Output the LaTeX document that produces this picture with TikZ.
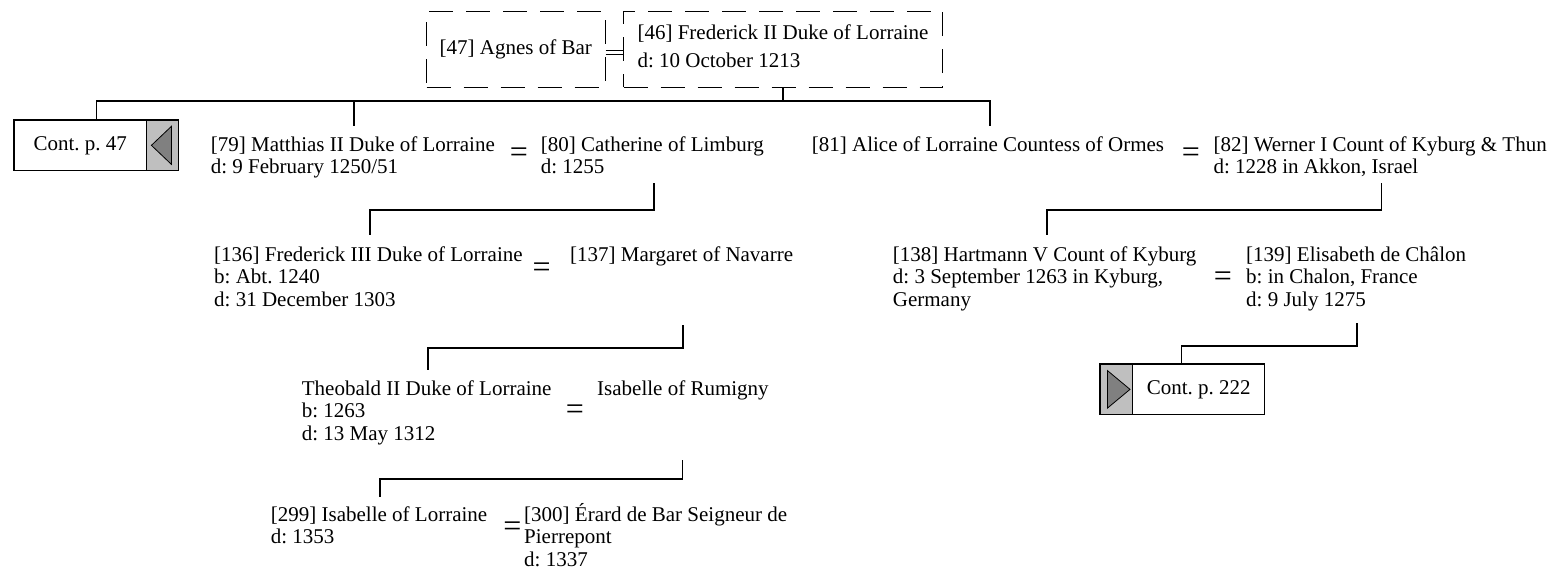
\documentclass[tikz,border=0pt]{standalone}
\usepackage{fontspec}
\setmainfont{Liberation Serif}
\frenchspacing
\begin{document}
\begin{tikzpicture}[x=1pt,y=-1pt,
  every node/.style={font=\fontsize{21}{22.8}\selectfont\frenchspacing},
  person/.style={anchor=base west, inner sep=0pt},
  eqsign/.style={inner sep=0pt, font=\fontsize{32}{32}\selectfont},
  link/.style={line width=1.4pt},
  dbox/.style={draw, dash pattern=on 24pt off 13pt, line width=1pt, minimum height=76pt, inner sep=0pt},
  contbox/.style={draw, line width=1.4pt, fill=white, minimum height=50.7pt, inner sep=0pt},
  contgray/.style={draw, line width=1.4pt, fill=black!25, minimum height=50.7pt, inner sep=0pt},
  arrowtri/.style={draw, line width=0.8pt, fill=black!50},
]
\useasboundingbox (0,0) rectangle (1560,581);

% top couple
\node[dbox, minimum width=178.6pt, anchor=north west] (n47) at (426,10.7) {[47] Agnes of Bar};
\node[dbox, minimum width=319pt, anchor=north west] (n46) at (623,10.7) {\begin{tabular}{@{}l@{}}[46] Frederick II Duke of Lorraine\\[5pt] d: 10 October 1213\end{tabular}};
\draw[line width=1pt] ([yshift=-1.25pt]n47.east) -- ([yshift=-1.25pt]n46.west);
\draw[line width=1pt] ([yshift=-5pt]n47.east) -- ([yshift=-5pt]n46.west);

% continuation boxes
\node[contbox, minimum width=132.4pt, anchor=north west] (c47) at (13.3,119.3) {Cont. p. 47};
\node[contgray, minimum width=32.3pt, anchor=north west] (g47) at (145.7,119.3) {};
\draw[arrowtri] ([shift={(-11.15,0)}]g47.center) -- ([shift={(8.85,-19)}]g47.center) -- ([shift={(8.85,19)}]g47.center) -- cycle;

\node[contgray, minimum width=32.7pt, anchor=north west] (g222) at (1099.3,363.3) {};
\node[contbox, minimum width=132pt, anchor=north west] (c222) at (1132,363.3) {Cont. p. 222};
\draw[arrowtri] ([shift={(13.65,0)}]g222.center) -- ([shift={(-8.95,-18.8)}]g222.center) -- ([shift={(-8.95,18.8)}]g222.center) -- cycle;

% generation 1
\node[person] (p79) at (210.7,151) {\begin{tabular}[t]{@{}l@{}}[79] Matthias II Duke of Lorraine\\ d: 9 February 1250/51\end{tabular}};
\node[eqsign] (e1) at (519,155) {=};
\node[person] (p80) at (540.7,151) {\begin{tabular}[t]{@{}l@{}}[80] Catherine of Limburg\\ d: 1255\end{tabular}};
\node[person] (p81) at (811.7,151) {[81] Alice of Lorraine Countess of Ormes};
\node[eqsign] (e2) at (1191,155) {=};
\node[person] (p82) at (1213.3,151) {\begin{tabular}[t]{@{}l@{}}[82] Werner I Count of Kyburg \& Thun\\ d: 1228 in Akkon, Israel\end{tabular}};

% generation 2
\node[person] (p136) at (214,261) {\begin{tabular}[t]{@{}l@{}}[136] Frederick III Duke of Lorraine\\ b: Abt. 1240\\ d: 31 December 1303\end{tabular}};
\node[eqsign] (e3) at (541.7,270) {=};
\node[person] (p137) at (570,261) {[137] Margaret of Navarre};
\node[person] (p138) at (892.7,261) {\begin{tabular}[t]{@{}l@{}}[138] Hartmann V Count of Kyburg\\ d: 3 September 1263 in Kyburg,\\ Germany\end{tabular}};
\node[eqsign] (e4) at (1223,279) {=};
\node[person] (p139) at (1246,261) {\begin{tabular}[t]{@{}l@{}}[139] Elisabeth de Châlon\\ b: in Chalon, France\\ d: 9 July 1275\end{tabular}};

% generation 3
\node[person] (ptheo) at (301.7,395) {\begin{tabular}[t]{@{}l@{}}Theobald II Duke of Lorraine\\ b: 1263\\ d: 13 May 1312\end{tabular}};
\node[eqsign] (e5) at (575,412) {=};
\node[person] (pisr) at (597,395) {Isabelle of Rumigny};

% generation 4
\node[person] (p299) at (270.7,521) {\begin{tabular}[t]{@{}l@{}}[299] Isabelle of Lorraine\\ d: 1353\end{tabular}};
\node[eqsign] (e6) at (512.5,529) {=};
\node[person] (p300) at (524,521) {\begin{tabular}[t]{@{}l@{}}[300] Érard de Bar Seigneur de\\ Pierrepont\\ d: 1337\end{tabular}};

% junction coordinates
\coordinate (j0) at (783,101);
\coordinate (h0l) at (96.7,101);
\coordinate (h0r) at (990,101);
\coordinate (t79) at (354,126);
\coordinate (t81) at (990,126);
\coordinate (s80) at (654,183);
\coordinate (t136) at (370,235);
\coordinate (s137) at (683,325);
\coordinate (ttheo) at (428,370);
\coordinate (sisr) at (682.7,460);
\coordinate (t299) at (380,497);
\coordinate (s82) at (1381.7,183);
\coordinate (t138) at (1047,235);
\coordinate (s139) at (1357,323);
\coordinate (t222) at (1181.7,363.3);

% connectors
\draw[link] (n46.south -| j0) -- (j0);
\draw[link] (c47.north -| h0l) -- (h0l) -- (h0r) -- (t81);
\draw[link] (t79 |- h0l) -- (t79);
\draw[link] (s80) -- ++(0,27) -| (t136);
\draw[link] (s137) -- ++(0,23) -| (ttheo);
\draw[link] (sisr) -- ++(0,19) -| (t299);
\draw[link] (s82) -- ++(0,27) -| (t138);
\draw[link] (s139) -- ++(0,23) -| (t222);
\end{tikzpicture}
\end{document}
